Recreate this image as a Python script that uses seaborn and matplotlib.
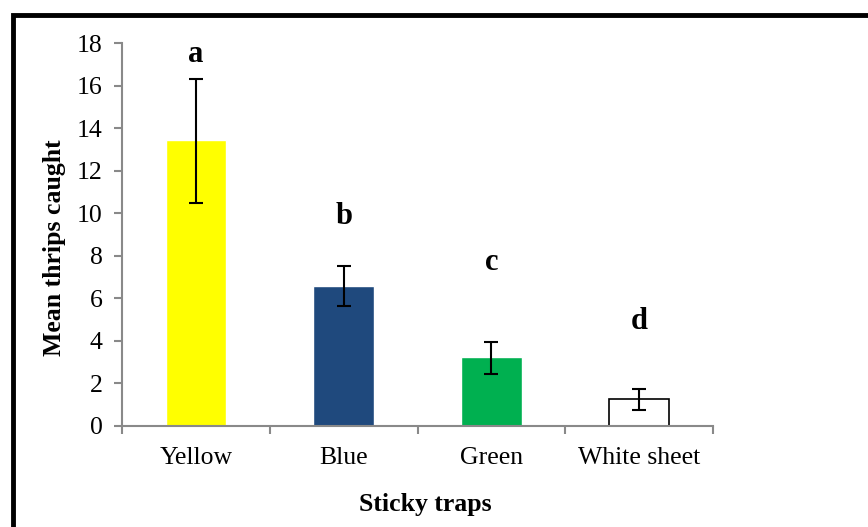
import matplotlib
import numpy as np
import pandas as pd
import seaborn as sns

matplotlib.use("Agg")
import matplotlib.pyplot as plt
from matplotlib.patches import Rectangle

traps = ["Yellow", "Blue", "Green", "White sheet"]
mean_caught = [13.45, 6.57, 3.22, 1.25]
err_low = [10.5, 5.62, 2.44, 0.75]
err_high = [16.33, 7.5, 3.95, 1.74]
letters = ["a", "b", "c", "d"]
letter_y = [17.45, 9.85, 7.7, 4.9]
bar_colors = ["#FFFF00", "#1F497D", "#00B050", "#FFFFFF"]

df = pd.DataFrame({"trap": traps, "mean": mean_caught})

sns.set_style("white")
plt.rcParams["font.family"] = ["Liberation Serif", "DejaVu Serif"]
plt.rcParams["text.color"] = "black"
plt.rcParams["axes.labelcolor"] = "black"
plt.rcParams["xtick.color"] = "black"
plt.rcParams["ytick.color"] = "black"

fig = plt.figure(figsize=(8.68, 5.27), dpi=100)
ax = fig.add_axes([0.1406, 0.1917, 0.6808, 0.7267])

sns.barplot(data=df, x="trap", y="mean", hue="trap", palette=bar_colors,
            legend=False, width=0.41, saturation=1, ax=ax)
# outline only the white bar
ax.patches[3].set_edgecolor("black")
ax.patches[3].set_linewidth(1.2)

means = np.array(mean_caught)
yerr = [means - np.array(err_low), np.array(err_high) - means]
ax.errorbar(range(len(traps)), means, yerr=yerr, fmt="none", ecolor="black",
            elinewidth=1.5, capsize=5, capthick=1.5)

for i, (lab, y) in enumerate(zip(letters, letter_y)):
    ax.text(i, y, lab, ha="center", va="center", fontsize=22, fontweight="bold")

ax.set_xlim(-0.5, 3.5)
ax.set_ylim(0, 18)
ax.set_yticks(range(0, 19, 2))
ax.set_xticks(np.arange(-0.5, 4, 1), minor=False)
ax.set_xticklabels([])
ax.set_xticks(range(4), labels=traps, minor=True)
ax.tick_params(axis="x", which="minor", bottom=False, labelsize=18.5, pad=13)
ax.tick_params(axis="x", which="major", bottom=True, length=6, color="#898989", width=1.5)
ax.tick_params(axis="y", left=True, length=6, color="#898989", width=1.5,
               labelsize=18.5, labelcolor="black", pad=8)

for side in ["top", "right"]:
    ax.spines[side].set_visible(False)
for side in ["left", "bottom"]:
    ax.spines[side].set_color("#898989")
    ax.spines[side].set_linewidth(1.5)

ax.set_xlabel("")
ax.set_ylabel("Mean thrips caught", fontsize=18.5, fontweight="bold")
ax.yaxis.set_label_coords(-0.095, 0.465)
fig.text(0.49, 0.043, "Sticky traps", ha="center", va="center",
         fontsize=18.5, fontweight="bold")

fig.patches.append(Rectangle((0.0155, -0.1), 1.1, 1.072, transform=fig.transFigure,
                             fill=False, edgecolor="black", linewidth=3.5))

fig.savefig("out.png", dpi=100)
plt.close(fig)
